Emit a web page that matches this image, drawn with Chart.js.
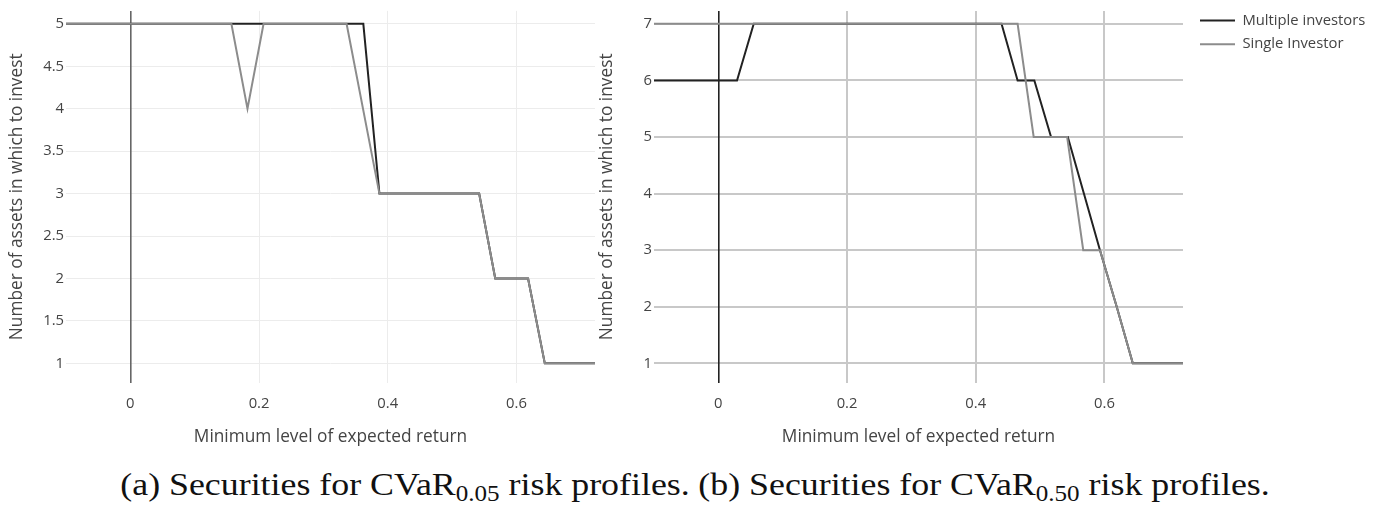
<!DOCTYPE html>
<html>
<head>
<meta charset="utf-8">
<script src="https://cdn.jsdelivr.net/npm/chart.js@4/dist/chart.umd.min.js"></script>
<style>
  html, body { margin: 0; padding: 0; background: #fff; width: 1383px; height: 506px; overflow: hidden; }
  canvas { position: absolute; top: 0; }
  #cvLeft { left: 0; }
  #cvRight { left: 590px; }
  .cap { position: absolute; top: 465px; font-family: "Liberation Serif", "DejaVu Serif", serif; font-size: 32px;
         color: #111; white-space: nowrap; transform: translateX(-50%) scaleX(1.12); line-height: 38px; }
  .cap sub { font-size: 70%; vertical-align: -0.28em; line-height: 0; }
</style>
</head>
<body>
<canvas id="cvLeft" width="600" height="460"></canvas>
<canvas id="cvRight" width="793" height="460"></canvas>
<div class="cap" style="left:405px">(a) Securities for CVaR<sub>0.05</sub> risk profiles.</div>
<div class="cap" style="left:984px">(b) Securities for CVaR<sub>0.50</sub> risk profiles.</div>

<script>
// ---- series names and axis texts ----
const seriesNames = ['Multiple investors', 'Single Investor'];
const xTitle = 'Minimum level of expected return';
const yTitle = 'Number of assets in which to invest';

// ---- tick labels ----
const xTicks = [0, 0.2, 0.4, 0.6];
const yTicksA = [1, 1.5, 2, 2.5, 3, 3.5, 4, 4.5, 5];
const yTicksB = [1, 2, 3, 4, 5, 6, 7];

// ---- panel (a): CVaR 0.05 ----
const aMultiX = [-0.1, 0.362, 0.387, 0.542, 0.567, 0.618, 0.644, 0.722];
const aMultiY = [5, 5, 3, 3, 2, 2, 1, 1];
const aSingleX = [-0.1, 0.157, 0.182, 0.207, 0.336, 0.387, 0.542, 0.567, 0.618, 0.644, 0.722];
const aSingleY = [5, 5, 4, 5, 5, 3, 3, 2, 2, 1, 1];

// ---- panel (b): CVaR 0.50 ----
const bMultiX = [-0.1, 0.029, 0.055, 0.44, 0.465, 0.491, 0.517, 0.543, 0.568, 0.593, 0.619, 0.644, 0.722];
const bMultiY = [6, 6, 7, 7, 6, 6, 5, 5, 4, 3, 2, 1, 1];
const bSingleX = [-0.1, 0.465, 0.49, 0.542, 0.567, 0.593, 0.619, 0.644, 0.722];
const bSingleY = [7, 7, 5, 5, 3, 3, 2, 1, 1];

const FONT = "'Open Sans', sans-serif";
const TEXT = '#444';
const C_MULTI = '#222222';
const C_SINGLE = '#8c8c8c';

const pts = (xs, ys) => xs.map((x, i) => ({ x: x, y: ys[i] }));
const setTicks = vals => scale => { scale.ticks = vals.map(v => ({ value: v })); };

function datasets(mx, my, sx, sy) {
  return [
    { label: seriesNames[0], data: pts(mx, my), borderColor: C_MULTI, backgroundColor: C_MULTI,
      borderWidth: 2, pointRadius: 0, tension: 0, order: 1 },
    { label: seriesNames[1], data: pts(sx, sy), borderColor: C_SINGLE, backgroundColor: C_SINGLE,
      borderWidth: 2, pointRadius: 0, tension: 0, order: 0 }
  ];
}

function axes(o) {
  const isZero = c => c.tick && c.tick.value === 0;
  return {
    y: {
      type: 'linear', position: 'left', min: o.yMin, max: o.yMax,
      afterBuildTicks: setTicks(o.yTicks),
      afterFit: s => { s.width = o.yWidth; },
      border: { display: false },
      grid: { color: o.grid, lineWidth: o.gridWidth, drawTicks: false },
      ticks: { padding: 2, color: TEXT, font: { family: FONT, size: 14.8 }, callback: v => String(v) },
      title: { display: true, text: yTitle, color: TEXT, font: { family: FONT, size: 17.3 }, padding: { top: 6.5, bottom: 0 } }
    },
    x: {
      type: 'linear', position: 'bottom', min: -0.1, max: 0.722,
      afterBuildTicks: setTicks(xTicks),
      afterFit: s => { s.height = 77.3; },
      border: { display: false },
      grid: {
        color: c => isZero(c) ? o.zero : o.grid,
        lineWidth: c => isZero(c) ? o.zeroWidth : o.gridWidth,
        drawTicks: false
      },
      ticks: { padding: 12, color: TEXT, font: { family: FONT, size: 14.8 }, callback: v => String(v), maxRotation: 0 },
      title: { display: true, text: xTitle, color: TEXT, font: { family: FONT, size: 17.3 }, padding: { top: 0, bottom: 12.6 } }
    }
  };
}

function build() {
  new Chart(document.getElementById('cvLeft'), {
    type: 'line',
    data: { datasets: datasets(aMultiX, aMultiY, aSingleX, aSingleY) },
    options: {
      responsive: false, animation: false, devicePixelRatio: 1,
      layout: { padding: { top: 10, right: 5, left: 0, bottom: 0 } },
      plugins: { legend: { display: false }, tooltip: { enabled: false } },
      scales: axes({ yMin: 0.772, yMax: 5.153, yTicks: yTicksA, yWidth: 66,
                     grid: '#ececec', gridWidth: 1, zero: '#666666', zeroWidth: 1.6 })
    }
  });

  const scB = axes({ yMin: 0.658, yMax: 7.229, yTicks: yTicksB, yWidth: 64,
                     grid: '#c8c8c8', gridWidth: 2, zero: '#222222', zeroWidth: 1.6 });
  // spacer scales: keep the plot clear of the legend column and the top edge
  scB.spacerTop = { type: 'linear', position: 'top', min: 0, max: 1, afterFit: s => { s.height = 6; },
    grid: { display: false }, ticks: { display: false }, border: { display: false } };
  scB.spacerRight = { type: 'linear', position: 'right', min: 0, max: 1, afterFit: s => { s.width = 8; },
    grid: { display: false }, ticks: { display: false }, border: { display: false } };

  new Chart(document.getElementById('cvRight'), {
    type: 'line',
    data: { datasets: datasets(bMultiX, bMultiY, bSingleX, bSingleY) },
    options: {
      responsive: false, animation: false, devicePixelRatio: 1,
      layout: { padding: { top: 4, right: 12, left: 0, bottom: 0 } },
      plugins: {
        tooltip: { enabled: false },
        legend: {
          position: 'right', align: 'start', maxWidth: 180,
          labels: {
            boxWidth: 35, boxHeight: 2, padding: 9, color: TEXT, font: { family: FONT, size: 14.8 },
            sort: (a, b) => a.datasetIndex - b.datasetIndex,
            generateLabels: chart => Chart.defaults.plugins.legend.labels.generateLabels(chart)
              .map(l => Object.assign(l, { fillStyle: l.strokeStyle, lineWidth: 0 }))
          }
        }
      },
      scales: scB
    }
  });
}

Promise.all([
  document.fonts.load("15px 'Open Sans'"),
  document.fonts.load("32px 'Liberation Serif'")
]).then(build, build);
</script>
</body>
</html>
